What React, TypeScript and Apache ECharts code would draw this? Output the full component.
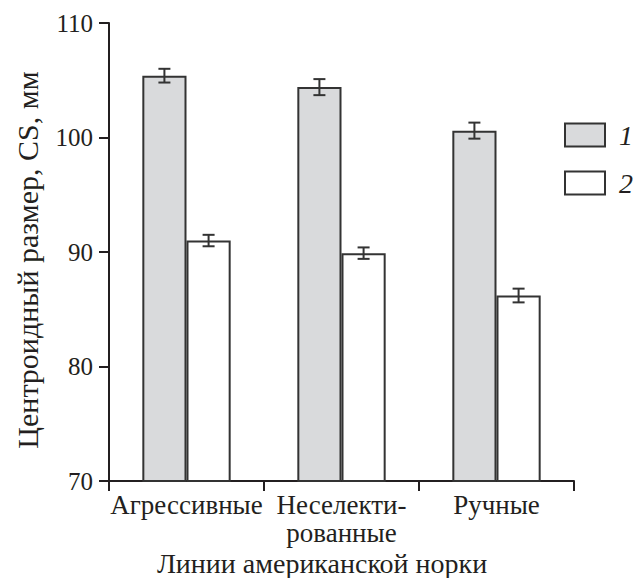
import React, { useEffect, useRef } from "react";
import * as echarts from "echarts";

const categories = ["Агрессивные", "Неселекти-\nрованные", "Ручные"];
const series1Values = [105.4, 104.4, 100.6];
const series1Errors = [0.6, 0.7, 0.7];
const series2Values = [91.0, 89.9, 86.2];
const series2Errors = [0.5, 0.5, 0.6];
const legendNames = ["1", "2"];
const yTicks = { min: 70, max: 110, interval: 10 };
const yTitle = "Центроидный размер, CS, мм";
const xTitle = "Линии американской норки";

const FONT = "Liberation Serif";
const INK = "#231f20";
const BAR_FRAC = 0.285;

export default function App() {
  const ref = useRef<HTMLDivElement>(null);
  useEffect(() => {
    if (!ref.current) return;
    const chart = echarts.init(ref.current, null, { renderer: "svg" });
    const errRender = (side: number) => (params: any, api: any) => {
      const idx = api.value(0);
      const v = api.value(1);
      const e = api.value(2);
      const bw = api.size([1, 0])[0];
      const off = side * bw * BAR_FRAC / 2;
      const top = api.coord([idx, v + e]);
      const bot = api.coord([idx, v - e]);
      const x = top[0] + off;
      const cap = 6;
      const style = { stroke: "#333", lineWidth: 2 };
      return {
        type: "group",
        children: [
          { type: "line", shape: { x1: x, y1: top[1], x2: x, y2: bot[1] }, style },
          { type: "line", shape: { x1: x - cap, y1: top[1], x2: x + cap, y2: top[1] }, style },
          { type: "line", shape: { x1: x - cap, y1: bot[1], x2: x + cap, y2: bot[1] }, style },
        ],
      };
    };
    chart.setOption({
      animation: false,
      backgroundColor: "#fff",
      textStyle: { fontFamily: FONT, color: INK },
      grid: { left: 109, right: 70, top: 23, bottom: 97, containLabel: false, outerBoundsMode: "none" },
      graphic: [
        {
          type: "text",
          x: 27,
          y: 260,
          rotation: Math.PI / 2,
          style: {
            text: yTitle,
            fill: INK,
            fontFamily: FONT,
            fontSize: 30,
            align: "center",
            verticalAlign: "middle",
          },
        },
        {
          type: "text",
          x: 322,
          y: 563,
          style: {
            text: xTitle,
            fill: INK,
            fontFamily: FONT,
            fontSize: 28,
            align: "center",
            verticalAlign: "middle",
          },
        },
      ],
      legend: {
        data: legendNames,
        orient: "vertical",
        left: 564,
        top: 121,
        padding: 0,
        itemWidth: 40,
        itemHeight: 23,
        itemGap: 20,
        icon: "rect",
        textStyle: { fontFamily: FONT, fontStyle: "italic", fontSize: 28, color: INK, padding: [0, 0, 0, 9] },
      },
      xAxis: {
        type: "category",
        data: categories,
        boundaryGap: true,
        axisLine: { lineStyle: { color: INK, width: 2 } },
        axisTick: { show: true, length: 10, lineStyle: { color: INK, width: 2 } },
        axisLabel: { fontFamily: FONT, fontSize: 27, color: INK, margin: 10, lineHeight: 28, interval: 0 },
      },
      yAxis: {
        type: "value",
        min: yTicks.min,
        max: yTicks.max,
        interval: yTicks.interval,
        splitLine: { show: false },
        axisLine: { show: true, lineStyle: { color: INK, width: 2 } },
        axisTick: { show: true, length: 10, lineStyle: { color: INK, width: 2 } },
        axisLabel: { fontFamily: FONT, fontSize: 25, color: INK, margin: 16 },
      },
      series: [
        {
          name: "1",
          type: "bar",
          data: series1Values,
          barGap: "0%",
          barCategoryGap: "43%",
          itemStyle: { color: "#d9dadc", borderColor: "#333", borderWidth: 2 },
        },
        {
          name: "2",
          type: "bar",
          data: series2Values,
          barGap: "0%",
          barCategoryGap: "43%",
          itemStyle: { color: "#ffffff", borderColor: "#333", borderWidth: 2 },
        },
        {
          type: "custom",
          renderItem: errRender(-1),
          data: series1Values.map((v, i) => [i, v, series1Errors[i]]),
          encode: { x: 0, y: 1 },
          z: 10,
        },
        {
          type: "custom",
          renderItem: errRender(1),
          data: series2Values.map((v, i) => [i, v, series2Errors[i]]),
          encode: { x: 0, y: 1 },
          z: 10,
        },
      ],
    });
    return () => chart.dispose();
  }, []);
  return (
    <div
      ref={ref}
      style={{ position: "fixed", left: 0, top: 0, width: 644, height: 578, background: "#fff" }}
    />
  );
}
